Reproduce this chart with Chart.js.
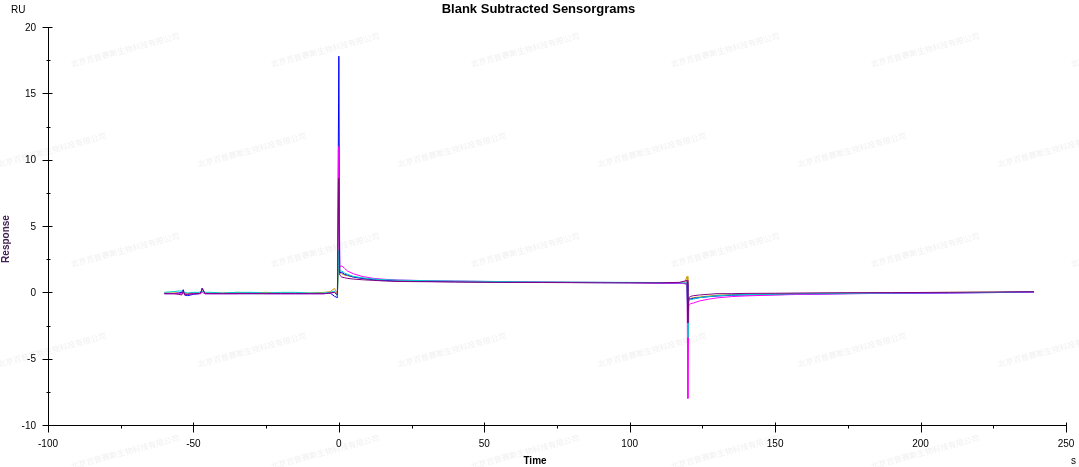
<!DOCTYPE html>
<html>
<head>
<meta charset="utf-8">
<title>Blank Subtracted Sensorgrams</title>
<script src="https://cdn.jsdelivr.net/npm/chart.js@4.4.1/dist/chart.umd.min.js"></script>
<style>
    html, body { margin: 0; padding: 0; background: #fff; }
    #wrap { width: 1079px; height: 467px; position: relative; }
</style>
</head>
<body>
<div id="wrap"><canvas id="sensor-chart" width="1079" height="467"></canvas></div>
<script>
// Sensorgram data (time in s, response in RU)

const times = [-60, -57, -55, -54, -53.5, -53, -52, -50, -48, -47.5, -47, -46, -44, -40, -35, -30, -25, -20, -15, -10, -5, -3, -1.5, -0.5,
    0, 0.3, 1, 2, 3, 5, 8, 12, 16, 20, 30, 40, 50, 60, 70, 80, 90, 100, 110, 117, 119, 119.7,
    120, 120.3, 121, 122, 124, 127, 130, 135, 140, 150, 160, 175, 190, 210, 225, 239];

const purpleRU = [-0.1, -0.1, -0.15, -0.2, 0.1, -0.2, -0.15, -0.1, -0.1, -0.05, 0.3, -0.1, -0.1, -0.1, -0.1, -0.1, -0.1, -0.1, -0.1, -0.1, -0.1, -0.05, 0.0, -0.2,
    8.6, 1.3, 1.15, 1.1, 1.05, 1.0, 0.95, 0.9, 0.85, 0.82, 0.8, 0.78, 0.76, 0.75, 0.74, 0.73, 0.72, 0.72, 0.72, 0.75, 0.85, 0.9,
    -2.3, -0.4, -0.3, -0.25, -0.2, -0.15, -0.1, -0.1, -0.08, -0.07, -0.05, -0.03, -0.02, 0.0, 0.02, 0.05];

const magentaRU = [-0.1, -0.1, -0.1, -0.1, 0.0, -0.1, -0.15, -0.1, -0.1, -0.1, 0.0, -0.1, -0.1, -0.1, -0.1, -0.05, -0.1, -0.1, -0.1, -0.1, -0.1, -0.05, 0.0, -0.2,
    11.0, 1.9, 2.0, 1.8, 1.6, 1.4, 1.2, 1.05, 0.98, 0.93, 0.88, 0.85, 0.82, 0.8, 0.78, 0.76, 0.75, 0.73, 0.71, 0.68, 0.65, 0.6,
    -8.0, -1.0, -0.85, -0.8, -0.65, -0.52, -0.42, -0.32, -0.27, -0.2, -0.15, -0.1, -0.07, -0.04, -0.01, 0.03];

const blueRU = [-0.1, -0.1, -0.05, 0.0, 0.2, -0.2, -0.25, -0.15, -0.1, -0.05, 0.3, -0.1, -0.1, -0.1, -0.1, -0.1, -0.1, -0.1, -0.1, -0.1, -0.1, -0.05, -0.3, -0.4,
    17.8, 1.5, 1.5, 1.35, 1.3, 1.15, 1.05, 0.95, 0.9, 0.86, 0.82, 0.8, 0.78, 0.76, 0.75, 0.74, 0.73, 0.72, 0.7, 0.68, 0.66, 0.6,
    -1.6, -0.5, -0.5, -0.45, -0.4, -0.33, -0.28, -0.22, -0.2, -0.18, -0.14, -0.1, -0.08, -0.05, -0.02, 0.02];

const cyanRU = [0.0, 0.05, 0.1, 0.1, 0.05, 0.0, -0.05, 0.0, 0.0, 0.05, 0.05, 0.0, 0.0, -0.05, 0.0, 0.0, -0.05, 0.0, 0.0, -0.05, -0.05, 0.0, 0.1, -0.3,
    3.2, 1.6, 1.6, 1.45, 1.35, 1.2, 1.1, 1.0, 0.95, 0.92, 0.88, 0.85, 0.83, 0.8, 0.78, 0.77, 0.76, 0.75, 0.74, 0.72, 0.72, 0.7,
    -3.4, -0.6, -0.55, -0.5, -0.4, -0.32, -0.26, -0.2, -0.17, -0.14, -0.1, -0.07, -0.05, -0.02, 0.0, 0.05];

const orangeRU = [-0.05, -0.05, -0.05, 0.0, 0.05, -0.05, -0.1, -0.05, -0.05, 0.0, 0.1, -0.05, -0.05, -0.05, 0.0, -0.05, 0.0, -0.05, -0.05, -0.05, 0.0, 0.05, 0.3, -0.1,
    2.2, 1.5, 1.4, 1.3, 1.25, 1.15, 1.05, 0.95, 0.9, 0.88, 0.82, 0.8, 0.78, 0.77, 0.76, 0.75, 0.74, 0.74, 0.73, 0.74, 0.8, 1.2,
    -0.6, -0.5, -0.45, -0.4, -0.35, -0.28, -0.22, -0.18, -0.15, -0.12, -0.08, -0.05, -0.03, 0.0, 0.02, 0.05];

const xTicks = [-100, -50, 0, 50, 100, 150, 200, 250];
const yTicks = [-10, -5, 0, 5, 10, 15, 20];

const FONT = "'Liberation Sans', Arial, sans-serif";
const WATERMARK = '北京百普赛斯生物科技有限公司';

function series(values, color) {
    return {
        data: times.map((t, i) => ({ x: t, y: values[i] })),
        borderColor: color,
        borderWidth: 1,
        pointRadius: 0,
        tension: 0,
        fill: false
    };
}

// faint company watermark tiled behind the plot
const watermarkPlugin = {
    id: 'watermark',
    beforeDraw(chart) {
        const ctx = chart.ctx;
        ctx.save();
        ctx.fillStyle = '#f0f0f0';
        ctx.font = "8px 'Noto Sans CJK SC', sans-serif";
        ctx.textAlign = 'center';
        ctx.textBaseline = 'middle';
        const rows = [50, 150, 250, 350, 452];
        rows.forEach((y, r) => {
            const start = (r % 2 === 0) ? 125 : 52;
            for (let x = start - 200; x < 1150; x += 200) {
                ctx.save();
                ctx.translate(x, y);
                ctx.rotate(-0.26);
                ctx.fillText(WATERMARK, 0, 0);
                ctx.restore();
            }
        });
        ctx.restore();
    }
};

// axes drawn by hand: ticks cross the axis line, minor ticks in between
const axesPlugin = {
    id: 'axesDraw',
    afterDraw(chart) {
        const ctx = chart.ctx;
        const xs = chart.scales.x, ys = chart.scales.y;
        const left = Math.round(xs.getPixelForValue(-100)) + 0.5;
        const bottom = Math.round(ys.getPixelForValue(-10)) + 0.5;
        const right = Math.round(xs.getPixelForValue(250)) + 0.5;
        const top = Math.round(ys.getPixelForValue(20)) + 0.5;

        ctx.save();
        ctx.strokeStyle = '#000';
        ctx.lineWidth = 1;
        ctx.beginPath();
        ctx.moveTo(left, top);
        ctx.lineTo(left, bottom);
        ctx.lineTo(right, bottom);
        // y ticks
        yTicks.forEach(v => {
            const y = Math.round(ys.getPixelForValue(v)) + 0.5;
            ctx.moveTo(left - 6, y); ctx.lineTo(left + 4, y);
            if (v < 20) {
                const ym = Math.round(ys.getPixelForValue(v + 2.5)) + 0.5;
                ctx.moveTo(left - 2, ym); ctx.lineTo(left + 2, ym);
            }
        });
        // x ticks
        xTicks.forEach(v => {
            const x = Math.round(xs.getPixelForValue(v)) + 0.5;
            ctx.moveTo(x, bottom - 3); ctx.lineTo(x, bottom + 7);
            if (v < 250) {
                const xm = Math.round(xs.getPixelForValue(v + 25)) + 0.5;
                ctx.moveTo(xm, bottom); ctx.lineTo(xm, bottom + 3);
            }
        });
        ctx.stroke();

        // tick labels
        ctx.fillStyle = '#000';
        ctx.font = '10px ' + FONT;
        ctx.textAlign = 'right';
        ctx.textBaseline = 'middle';
        yTicks.forEach(v => ctx.fillText(String(v), 36, ys.getPixelForValue(v) + 1));
        ctx.textAlign = 'center';
        ctx.textBaseline = 'alphabetic';
        xTicks.forEach(v => ctx.fillText(String(v), xs.getPixelForValue(v), 447));

        // units
        ctx.textAlign = 'left';
        ctx.fillText('RU', 11, 13);
        ctx.fillText('s', 1071, 464);

        // axis titles
        ctx.font = 'bold 10px ' + FONT;
        ctx.textAlign = 'center';
        ctx.fillText('Time', 535, 464);
        ctx.save();
        ctx.translate(9, 239);
        ctx.rotate(-Math.PI / 2);
        ctx.fillStyle = '#402050';
        ctx.fillText('Response', 0, 0);
        ctx.restore();

        // chart title
        ctx.fillStyle = '#000';
        ctx.font = 'bold 13px ' + FONT;
        ctx.fillText('Blank Subtracted Sensorgrams', 538.5, 13);
        ctx.restore();
    }
};

document.addEventListener('DOMContentLoaded', () => {
    const ctx = document.getElementById('sensor-chart').getContext('2d');
    // first dataset ends up on top
    new Chart(ctx, {
        type: 'line',
        data: {
            datasets: [
                series(purpleRU, '#800080'),
                series(cyanRU, '#00cccc'),
                series(magentaRU, '#ff00ff'),
                series(blueRU, '#0000ff'),
                series(orangeRU, '#cc9900')
            ]
        },
        options: {
            responsive: false,
            animation: false,
            layout: { padding: { left: 48, right: 13, top: 27, bottom: 42 } },
            plugins: {
                legend: { display: false },
                tooltip: { enabled: false },
                title: { display: false }
            },
            scales: {
                x: { type: 'linear', min: -100, max: 250, display: false },
                y: { type: 'linear', min: -10, max: 20, display: false }
            }
        },
        plugins: [watermarkPlugin, axesPlugin]
    });
});
</script>
</body>
</html>
